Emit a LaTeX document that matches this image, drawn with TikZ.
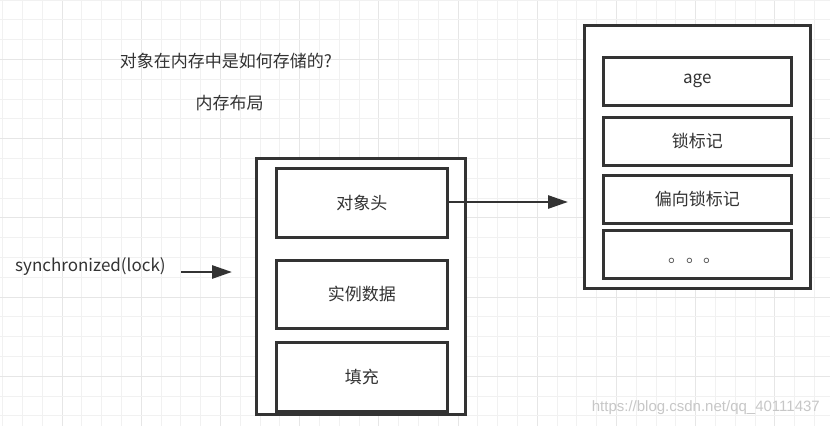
\documentclass[tikz,border=0pt]{standalone}
\usepackage{fontspec}
\setmainfont{Noto Sans CJK SC}
\newfontfamily\wmfont{Liberation Sans}
\usetikzlibrary{arrows.meta}
\definecolor{ink}{HTML}{333333}
\definecolor{gridminor}{HTML}{F1F1F1}
\definecolor{gridmajor}{HTML}{E6E6E6}
\definecolor{txt}{HTML}{333333}
\tikzset{
  outerbox/.style={draw=ink, line width=2.5pt, fill=white, anchor=north west, inner sep=0pt},
  innerbox/.style={draw=ink, line width=2.5pt, fill=white, anchor=north west, inner sep=0pt},
  lbl/.style={text=txt, font=\fontsize{17}{20}\selectfont, inner sep=0pt},
  arr/.style={draw=ink, line width=2.7pt, -{Triangle[length=20pt,width=13pt]}},
}
\begin{document}
\begin{tikzpicture}[x=1pt,y=-1pt]
\useasboundingbox (0,0) rectangle (830,426);
\fill[white] (0,0) rectangle (830,426);
% grid
\foreach \i in {0,...,41} {
  \pgfmathtruncatemacro{\m}{mod(\i,4)}
  \ifnum\m=3
    \draw[gridmajor, line width=1pt] ({2.7+19.8*\i},0) -- ({2.7+19.8*\i},426);
  \else
    \draw[gridminor, line width=1pt] ({2.7+19.8*\i},0) -- ({2.7+19.8*\i},426);
  \fi
}
\foreach \i in {0,...,21} {
  \pgfmathtruncatemacro{\m}{mod(\i,4)}
  \ifnum\m=3
    \draw[gridmajor, line width=1pt] (0,{19.8*\i}) -- (830,{19.8*\i});
  \else
    \draw[gridminor, line width=1pt] (0,{19.8*\i}) -- (830,{19.8*\i});
  \fi
}

% titles
\node[lbl] (title) at (226,61) {对象在内存中是如何存储的?};
\node[lbl] (layout) at (229.5,103) {内存布局};

% left object layout
\node[outerbox, minimum width=209pt, minimum height=256pt] (obj) at (255,157) {};
\node[innerbox, minimum width=171pt, minimum height=69pt] (head) at (275,167) {};
\node[innerbox, minimum width=171pt, minimum height=68pt] (data) at (275,259) {};
\node[innerbox, minimum width=171pt, minimum height=69pt] (pad) at (275,341) {};
\node[lbl] at (head.center) {对象头};
\node[lbl] at (data.center) {实例数据};
\node[lbl] at (pad.center) {填充};

% right header layout
\node[outerbox, minimum width=226pt, minimum height=263pt] (hdr) at (583,24) {};
\node[innerbox, minimum width=188pt, minimum height=48pt] (age) at (602,56) {};
\node[innerbox, minimum width=188pt, minimum height=48pt] (lock) at (602,116) {};
\node[innerbox, minimum width=188pt, minimum height=48pt] (bias) at (602,174) {};
\node[innerbox, minimum width=188pt, minimum height=48pt] (more) at (602,229) {};
\node[lbl] at (age.center) {age};
\node[lbl] at (lock.center) {锁标记};
\node[lbl] at (bias.center) {偏向锁标记};
\node[lbl, text=ink!85, font=\fontsize{17.5}{20}\selectfont] (dots) at (695,261) {。。。};

% synchronized label
\node[lbl, anchor=west] (sync) at (15,267) {synchronized(lock)};

% arrows
\coordinate (e1) at (568,202);
\draw[arr] (head.east |- e1) -- (e1);
\coordinate (s2) at (181,272);
\coordinate (e2) at (232,272);
\draw[arr] (s2) -- (e2);

% watermark
\node[text=black!22, font=\wmfont\fontsize{15}{17}\selectfont, inner sep=0pt, anchor=east] (wm) at (820,408) {https://blog.csdn.net/qq\_40111437};
\end{tikzpicture}
\end{document}
